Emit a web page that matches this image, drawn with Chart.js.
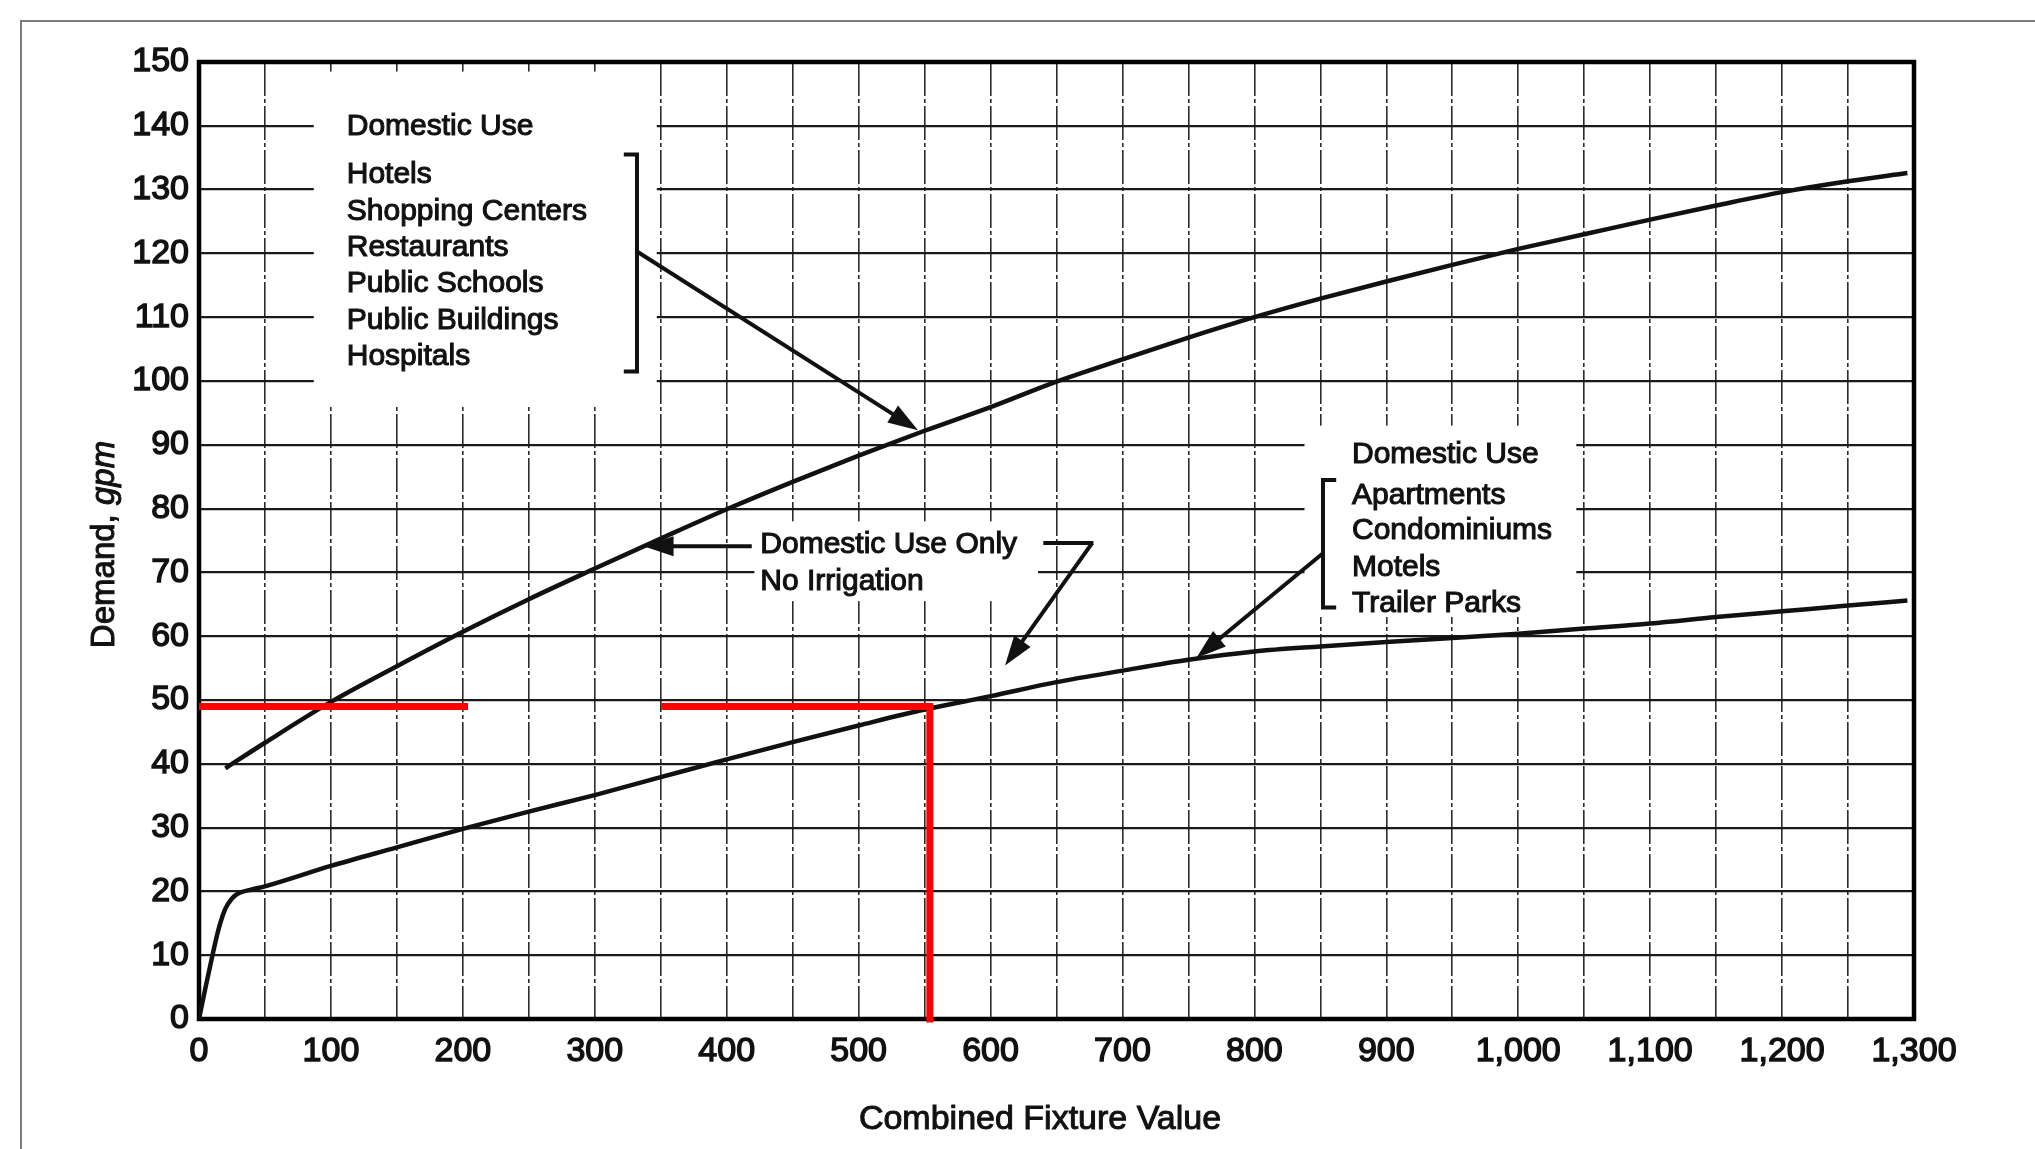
<!DOCTYPE html>
<html>
<head>
<meta charset="utf-8">
<title>Demand vs Combined Fixture Value</title>
<script src="https://cdn.jsdelivr.net/npm/chart.js@4.4.1/dist/chart.umd.min.js"></script>
<style>
    html, body { margin: 0; padding: 0; background: #fff; }
    canvas { display: block; }
</style>
</head>
<body>
<canvas id="demandChart" width="2035" height="1149"></canvas>
<script>
// Data
const hotelsX = [20, 50, 100, 150, 200, 250, 300, 350, 400, 450, 500, 550, 600, 650, 700,
    750, 800, 850, 900, 950, 1000, 1050, 1100, 1150, 1200, 1250, 1295];
const hotelsY = [39.3, 43.3, 49.7, 55.3, 60.7, 65.8, 70.6, 75.3, 79.9, 84.2, 88.3, 92.2, 95.9, 99.9, 103.4,
    106.8, 110.0, 112.9, 115.6, 118.2, 120.7, 123.0, 125.3, 127.5, 129.6, 131.3, 132.6];

const apartmentsX = [0, 5, 10, 15, 20, 25, 30, 40, 50, 100, 150, 200, 250, 300, 350, 400, 450, 500,
    550, 600, 650, 700, 750, 800, 850, 900, 950, 1000, 1050, 1100, 1150, 1200, 1250, 1295];
const apartmentsY = [0, 5.0, 9.8, 14.2, 17.3, 18.9, 19.7, 20.3, 20.8, 24.0, 26.9, 29.8, 32.5, 35.1, 37.9, 40.7, 43.4, 46.0,
    48.5, 50.6, 52.8, 54.6, 56.3, 57.6, 58.4, 59.1, 59.7, 60.4, 61.2, 62.0, 63.0, 63.9, 64.8, 65.6];

// red reading lines
const redLeftX = [0, 204];
const redLeftY = [49, 49];
const redRightX = [353, 554, 554];
const redRightY = [49, 49, 0];

const xTickLabels = ['0', '100', '200', '300', '400', '500', '600', '700', '800', '900',
    '1,000', '1,100', '1,200', '1,300'];
const yTickLabels = ['0', '10', '20', '30', '40', '50', '60', '70', '80', '90', '100',
    '110', '120', '130', '140', '150'];

const FONT = '"Liberation Sans", Arial, Helvetica, sans-serif';
const INK = '#111';

function toPoints(xs, ys) {
    return xs.map((x, i) => ({ x: x, y: ys[i] }));
}

function arrow(ctx, x1, y1, x2, y2) {
    const a = Math.atan2(y2 - y1, x2 - x1);
    const len = 30, half = 10;
    ctx.beginPath();
    ctx.moveTo(x1, y1);
    ctx.lineTo(x2 - (len - 4) * Math.cos(a), y2 - (len - 4) * Math.sin(a));
    ctx.stroke();
    ctx.beginPath();
    ctx.moveTo(x2, y2);
    ctx.lineTo(x2 - len * Math.cos(a) + half * Math.sin(a), y2 - len * Math.sin(a) - half * Math.cos(a));
    ctx.lineTo(x2 - len * Math.cos(a) - half * Math.sin(a), y2 - len * Math.sin(a) + half * Math.cos(a));
    ctx.closePath();
    ctx.fill();
}

function label(ctx, text, x, y) {
    ctx.strokeText(text, x, y);
    ctx.fillText(text, x, y);
}

// Annotations, frames and white patches behind the notes
const notes = {
    id: 'notes',
    beforeDraw(chart) {
        const ctx = chart.ctx;
        ctx.save();
        ctx.strokeStyle = '#7a7a7a';
        ctx.lineWidth = 2;
        ctx.strokeRect(21, 21, 2200, 1300);
        ctx.restore();
    },
    beforeDatasetsDraw(chart) {
        const ctx = chart.ctx;
        const sx = chart.scales.x, sy = chart.scales.y;
        const X = v => sx.getPixelForValue(v);
        const Y = v => sy.getPixelForValue(v);
        ctx.save();
        ctx.fillStyle = '#fff';
        [[87, 347, 96, 148.5], [838, 1044, 63, 93], [421, 636, 65.5, 78]].forEach(b => {
            ctx.fillRect(X(b[0]), Y(b[3]), X(b[1]) - X(b[0]), Y(b[2]) - Y(b[3]));
        });
        const a = chart.chartArea;
        ctx.strokeStyle = '#000';
        ctx.lineWidth = 4.5;
        ctx.strokeRect(a.left, a.top, a.right - a.left, a.bottom - a.top);
        ctx.restore();
    },
    afterDatasetsDraw(chart) {
        const ctx = chart.ctx;
        const sx = chart.scales.x, sy = chart.scales.y;
        const X = v => sx.getPixelForValue(v);
        const Y = v => sy.getPixelForValue(v);
        ctx.save();
        ctx.fillStyle = INK;
        ctx.strokeStyle = INK;
        ctx.font = '30px ' + FONT;
        ctx.textBaseline = 'middle';
        ctx.textAlign = 'left';
        ctx.lineWidth = 1.1;

        // top-left group
        const group1 = ['Domestic Use', 'Hotels', 'Shopping Centers', 'Restaurants',
            'Public Schools', 'Public Buildings', 'Hospitals'];
        const g1y = [139.8, 132.3, 126.6, 120.9, 115.2, 109.5, 103.8];
        group1.forEach((t, i) => label(ctx, t, X(112), Y(g1y[i])));

        // right group
        const group2 = ['Domestic Use', 'Apartments', 'Condominiums', 'Motels', 'Trailer Parks'];
        const g2y = [88.5, 82.0, 76.5, 70.8, 65.1];
        group2.forEach((t, i) => label(ctx, t, X(874), Y(g2y[i])));

        // middle note
        label(ctx, 'Domestic Use Only', X(425.5), Y(74.3));
        label(ctx, 'No Irrigation', X(425.5), Y(68.6));

        // brackets and arrows
        ctx.lineWidth = 4;
        ctx.lineJoin = 'miter';
        ctx.beginPath();
        ctx.moveTo(X(322), Y(135.5));
        ctx.lineTo(X(332), Y(135.5));
        ctx.lineTo(X(332), Y(101.5));
        ctx.lineTo(X(322), Y(101.5));
        ctx.stroke();
        arrow(ctx, X(332), Y(120.3), X(545), Y(92.3));

        ctx.beginPath();
        ctx.moveTo(X(862), Y(84.5));
        ctx.lineTo(X(852), Y(84.5));
        ctx.lineTo(X(852), Y(64.5));
        ctx.lineTo(X(862), Y(64.5));
        ctx.stroke();
        arrow(ctx, X(852), Y(73), X(756), Y(56.6));

        arrow(ctx, X(419), Y(74.1), X(337), Y(74.1));
        ctx.beginPath();
        ctx.moveTo(X(640), Y(74.6));
        ctx.lineTo(X(678), Y(74.6));
        ctx.stroke();
        arrow(ctx, X(677), Y(74.6), X(611), Y(55.4));

        // x axis title
        ctx.lineWidth = 1;
        ctx.font = '34px ' + FONT;
        ctx.textAlign = 'center';
        label(ctx, 'Combined Fixture Value', 1040, 1120);

        // y axis title with italic unit
        const a = chart.chartArea;
        ctx.textAlign = 'left';
        ctx.translate(105, (a.top + a.bottom) / 2 + 4);
        ctx.rotate(-Math.PI / 2);
        ctx.font = '33px ' + FONT;
        const w1 = ctx.measureText('Demand, ').width;
        ctx.font = 'italic 33px ' + FONT;
        const w2 = ctx.measureText('gpm').width;
        const start = -(w1 + w2) / 2;
        ctx.font = '33px ' + FONT;
        label(ctx, 'Demand, ', start, 0);
        ctx.font = 'italic 33px ' + FONT;
        label(ctx, 'gpm', start + w1, 0);
        ctx.restore();
    }
};

const ctx = document.getElementById('demandChart').getContext('2d');
const demandChart = new Chart(ctx, {
    type: 'line',
    data: {
        datasets: [{
            label: 'Reading left',
            data: toPoints(redLeftX, redLeftY),
            borderColor: '#ff0000',
            borderWidth: 7,
            borderCapStyle: 'butt',
            pointRadius: 0,
            tension: 0,
            clip: false
        }, {
            label: 'Reading right',
            data: toPoints(redRightX, redRightY),
            borderColor: '#ff0000',
            borderWidth: 7,
            borderCapStyle: 'square',
            borderJoinStyle: 'miter',
            pointRadius: 0,
            tension: 0,
            clip: false
        }, {
            label: 'Hotels, shopping centers, restaurants, schools, public buildings, hospitals',
            data: toPoints(hotelsX, hotelsY),
            borderColor: INK,
            borderWidth: 4.5,
            pointRadius: 0,
            cubicInterpolationMode: 'monotone'
        }, {
            label: 'Apartments, condominiums, motels, trailer parks',
            data: toPoints(apartmentsX, apartmentsY),
            borderColor: INK,
            borderWidth: 4.5,
            pointRadius: 0,
            cubicInterpolationMode: 'monotone'
        }]
    },
    options: {
        responsive: false,
        animation: false,
        events: [],
        layout: { padding: { left: 0, top: 62, right: 121, bottom: 0 } },
        plugins: {
            legend: { display: false },
            tooltip: { enabled: false }
        },
        scales: {
            x: {
                type: 'linear',
                min: 0,
                max: 1300,
                afterFit: s => { s.height = 130; },
                grid: { color: '#2b2b2b', lineWidth: 1.6, drawTicks: false },
                border: { display: false, dash: [34, 3, 4, 3] },
                ticks: {
                    stepSize: 50,
                    autoSkip: false,
                    maxRotation: 0,
                    padding: 12,
                    color: INK,
                    textStrokeColor: INK,
                    textStrokeWidth: 1.4,
                    font: { family: FONT, size: 34 },
                    callback: v => (v % 100 === 0 ? xTickLabels[v / 100] : '')
                }
            },
            y: {
                min: 0,
                max: 150,
                afterFit: s => { s.width = 199; },
                grid: { color: '#1a1a1a', lineWidth: 2.2, drawTicks: false },
                border: { display: false },
                ticks: {
                    stepSize: 10,
                    padding: 10,
                    color: INK,
                    textStrokeColor: INK,
                    textStrokeWidth: 1.4,
                    font: { family: FONT, size: 34 },
                    callback: v => yTickLabels[v / 10]
                }
            }
        }
    },
    plugins: [notes]
});
</script>
</body>
</html>
